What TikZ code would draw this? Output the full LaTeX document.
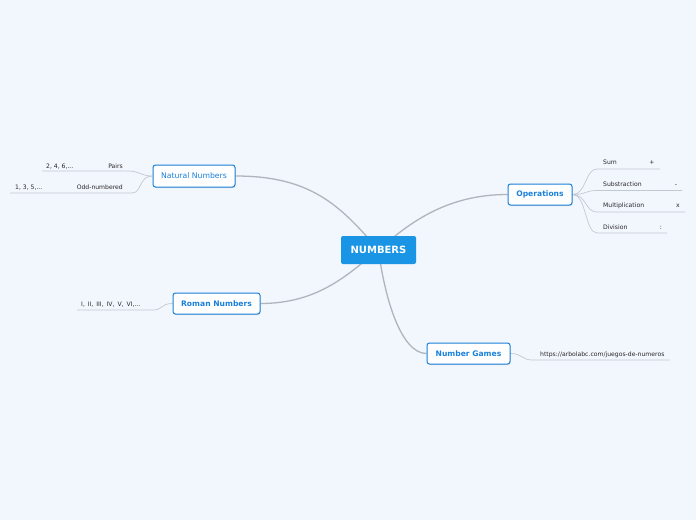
\documentclass[tikz,border=0pt]{standalone}
\usepackage{fontspec}
\setmainfont{DejaVu Sans}
\usetikzlibrary{shadows,backgrounds,calc}
\definecolor{bgc}{RGB}{242,246,253}
\definecolor{mainblue}{RGB}{26,149,230}
\definecolor{topicblue}{RGB}{26,128,218}
\definecolor{linegray}{RGB}{176,180,188}
\definecolor{sublinegray}{RGB}{196,200,208}
\definecolor{txt}{RGB}{40,40,40}
\tikzset{
  centerbox/.style={fill=mainblue, rounded corners=2pt, text=white, font=\fontsize{10}{12}\selectfont\bfseries, minimum width=75pt, minimum height=28pt, inner sep=0pt},
  topicbox/.style={fill=white, draw=topicblue, line width=1pt, rounded corners=2.5pt, text=topicblue, inner sep=0pt, drop shadow={shadow xshift=0.6pt, shadow yshift=-1pt, opacity=0.25}},
  topicfont/.style={font=\fontsize{7.6}{9}\selectfont\bfseries},
  leaf/.style={text=txt, font=\fontsize{6.1}{7}\selectfont, inner sep=0pt},
  mainline/.style={draw=linegray, line width=1.3pt},
  subline/.style={draw=sublinegray, line width=0.7pt}
}
\begin{document}
\begin{tikzpicture}[x=1pt,y=-1pt]
\useasboundingbox (0,0) rectangle (696,520);
\node[centerbox] (c) at (378.5,250) {NUMBERS};
\node[topicbox, font=\fontsize{7.7}{9}\selectfont, minimum width=82pt, minimum height=22pt] (nat) at (194,176) {Natural Numbers};
\node[topicbox, topicfont, minimum width=64pt, minimum height=21pt] (ops) at (540,194.5) {Operations};
\node[topicbox, topicfont, minimum width=87pt, minimum height=21pt] (rom) at (216.5,303.5) {Roman Numbers};
\node[topicbox, topicfont, minimum width=83pt, minimum height=21pt] (game) at (468.5,353.5) {Number Games};
% leaves
\node[leaf, anchor=base west] (p1) at (46,168.5) {2, 4, 6,...};
\node[leaf, anchor=base east] (p2) at (123,168.5) {Pairs};
\node[leaf, anchor=base west] (o1) at (15,189.5) {1, 3, 5,...};
\node[leaf, anchor=base east] (o2) at (123,189.5) {Odd-numbered};
\node[leaf, anchor=base west] (s1) at (603,164.5) {Sum};
\node[leaf, anchor=base] (s2) at (652,164.5) {+};
\node[leaf, anchor=base west] (b1) at (603,186) {Substraction};
\node[leaf, anchor=base] (b2) at (676,186) {-};
\node[leaf, anchor=base west] (m1) at (603,207) {Multiplication};
\node[leaf, anchor=base] (m2) at (678,207) {x};
\node[leaf, anchor=base west] (d1) at (603,229) {Division};
\node[leaf, anchor=base] (d2) at (661,229) {:};
\node[leaf, anchor=base west] (r1) at (81,306) {I,\, II,\, III,\, IV,\, V,\, VI,...};
\node[leaf, anchor=base west] (u1) at (540,356) {https://arbolabc.com/juegos-de-numeros};
% underline ends
\coordinate (pA) at (128,171); \coordinate (pB) at (42,171);
\coordinate (oA) at (132,193); \coordinate (oB) at (10,193);
\coordinate (sA) at (597,169); \coordinate (sB) at (660,169);
\coordinate (bA) at (597,190.5); \coordinate (bB) at (682,190.5);
\coordinate (mA) at (597,212); \coordinate (mB) at (685,212);
\coordinate (dA) at (597,233); \coordinate (dB) at (667,233);
\coordinate (rA) at (153,310); \coordinate (rB) at (77,310);
\coordinate (uA) at (532,360); \coordinate (uB) at (670,360);
\begin{scope}[on background layer]
\fill[bgc] (0,0) rectangle (696,520);
\draw[mainline] (nat.east) .. controls +(75,0) and (340,205) .. (c.center);
\draw[mainline] (ops.west) .. controls +(-60,0) and (410,222) .. (c.center);
\draw[mainline] (rom.east) .. controls +(60,0) and (350,272) .. (c.center);
\draw[mainline] (game.west) .. controls +(-25,0) and (385,300) .. (c.center);
\draw[subline] (nat.west) .. controls +(-12,0) and ($(pA)+(12,0)$) .. (pA) -- (pB);
\draw[subline] (nat.west) .. controls +(-14,0) and ($(oA)+(10,0)$) .. (oA) -- (oB);
\draw[subline] (ops.east) .. controls +(14,0) and ($(sA)+(-12,0)$) .. (sA) -- (sB);
\draw[subline] (ops.east) .. controls +(14,0) and ($(bA)+(-12,0)$) .. (bA) -- (bB);
\draw[subline] (ops.east) .. controls +(14,0) and ($(mA)+(-12,0)$) .. (mA) -- (mB);
\draw[subline] (ops.east) .. controls +(14,0) and ($(dA)+(-12,0)$) .. (dA) -- (dB);
\draw[subline] (rom.west) .. controls +(-12,0) and ($(rA)+(10,0)$) .. (rA) -- (rB);
\draw[subline] (game.east) .. controls +(12,0) and ($(uA)+(-10,0)$) .. (uA) -- (uB);
\end{scope}
\end{tikzpicture}
\end{document}
